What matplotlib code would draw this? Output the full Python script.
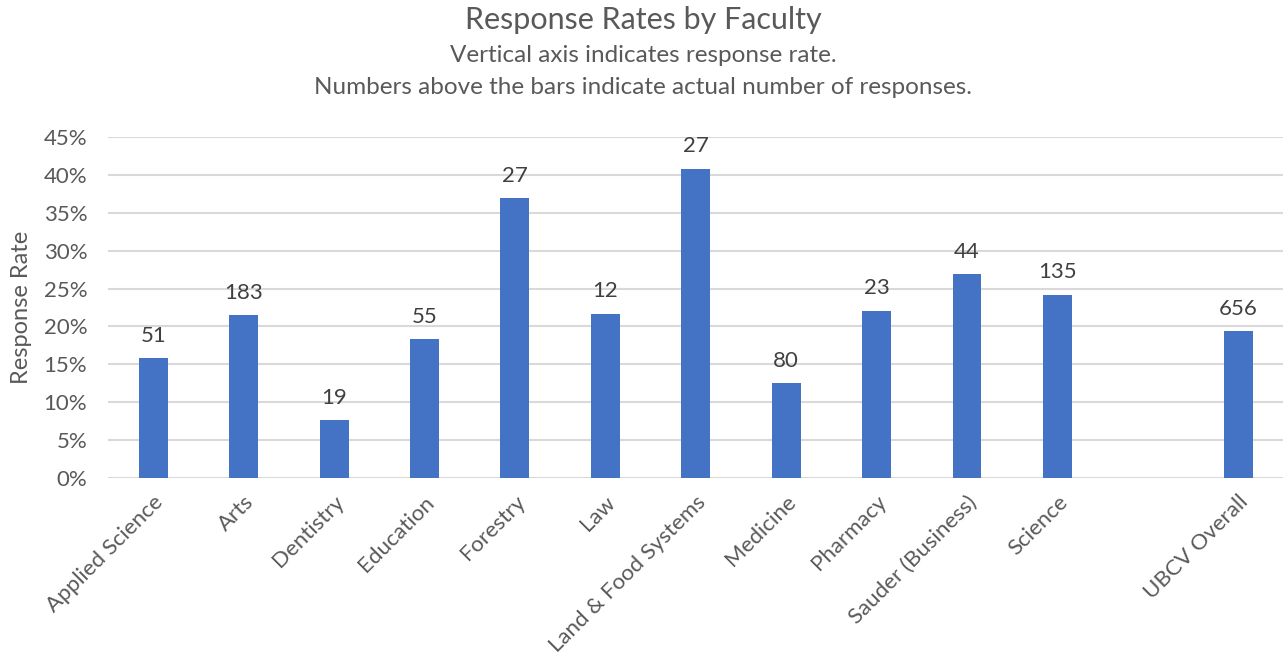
import numpy as np
import matplotlib
matplotlib.use('Agg')
import matplotlib.pyplot as plt
from matplotlib.ticker import PercentFormatter

plt.rcParams['font.family'] = ['Lato', 'DejaVu Sans']

# data
faculties = ['Applied Science', 'Arts', 'Dentistry', 'Education', 'Forestry', 'Law',
             'Land & Food Systems', 'Medicine', 'Pharmacy', 'Sauder (Business)', 'Science',
             '', 'UBCV Overall']
rates = [15.8, 21.5, 7.6, 18.3, 36.9, 21.7, 40.8, 12.5, 22.1, 26.9, 24.2, np.nan, 19.4]
responses = ['51', '183', '19', '55', '27', '12', '27', '80', '23', '44', '135', '', '656']

grey = '#595959'
blue = '#4472C4'

fig = plt.figure(figsize=(12.86, 6.55), dpi=100)
ax = fig.add_axes([0.084, 0.2702, 0.914, 0.5206])

x = np.arange(len(faculties))
ax.bar(x, rates, width=0.32, color=blue, zorder=3)

for xi, r, n in zip(x, rates, responses):
    if n:
        ax.annotate(n, (xi, r), xytext=(0, 9), textcoords='offset points',
                    ha='center', va='bottom', fontsize=16, color='#404040')

ax.set_xlim(-0.5, len(faculties) - 0.5)
ax.set_ylim(0, 45)
ax.set_yticks(np.arange(0, 46, 5))
ax.yaxis.set_major_formatter(PercentFormatter(decimals=0))
ax.grid(axis='y', color='#d9d9d9', linewidth=1.5, zorder=0)
for s in ax.spines.values():
    s.set_visible(False)

ax.set_xticks(x)
ax.set_xticklabels(faculties, rotation=45, ha='right', rotation_mode='anchor')
ax.tick_params(axis='both', length=0, labelsize=16, labelcolor=grey)
ax.tick_params(axis='x', pad=10)
ax.tick_params(axis='y', pad=15)
ax.set_ylabel('Response Rate', fontsize=17, color=grey, labelpad=8)

fig.text(0.5, 1 - 20 / 655, 'Response Rates by Faculty', ha='center', va='center',
         fontsize=22, color=grey)
fig.text(0.5, 1 - 55 / 655, 'Vertical axis indicates response rate.', ha='center',
         va='center', fontsize=17.5, color=grey)
fig.text(0.5, 1 - 88 / 655, 'Numbers above the bars indicate actual number of responses.',
         ha='center', va='center', fontsize=17.5, color=grey)

fig.savefig('out.png', dpi=100)
